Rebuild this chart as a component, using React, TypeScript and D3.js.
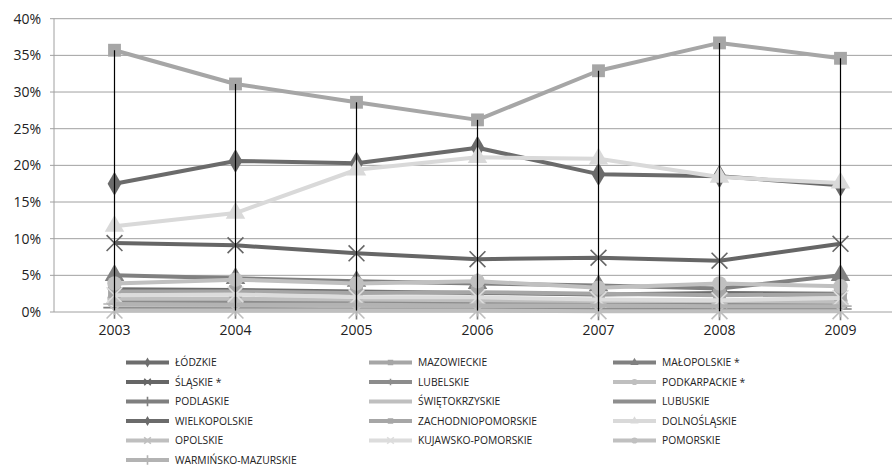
import React, { useEffect, useRef } from "react";
import {
  select,
  scalePoint,
  scaleLinear,
  line,
  symbol,
  symbolDiamond,
  symbolSquare,
  symbolTriangle,
  symbolCircle,
  symbolTimes,
  symbolAsterisk,
  symbolPlus,
  max,
  min,
} from "d3";

const years = ["2003", "2004", "2005", "2006", "2007", "2008", "2009"];
const yTicks = [0, 5, 10, 15, 20, 25, 30, 35, 40];

// values in %
const lodzkie = [3.1, 3.0, 2.8, 2.6, 2.4, 2.6, 2.5];
const mazowieckie = [35.7, 31.1, 28.6, 26.2, 32.9, 36.7, 34.6];
const malopolskie = [5.0, 4.6, 4.2, 3.9, 3.6, 3.2, 5.0];
const slaskie = [9.4, 9.1, 8.0, 7.2, 7.4, 7.0, 9.3];
const lubelskie = [1.5, 1.5, 1.4, 1.3, 1.2, 1.2, 1.1];
const podkarpackie = [1.8, 1.8, 1.7, 1.6, 1.5, 1.5, 1.4];
const podlaskie = [0.6, 0.6, 0.5, 0.5, 0.4, 0.4, 0.4];
const swietokrzyskie = [0.9, 0.9, 0.8, 0.7, 0.7, 0.6, 0.6];
const lubuskie = [0.4, 0.3, 0.3, 0.3, 0.3, 0.3, 0.3];
const wielkopolskie = [17.5, 20.6, 20.3, 22.4, 18.8, 18.5, 17.3];
const zachodniopomorskie = [2.8, 2.8, 2.6, 2.7, 2.5, 2.3, 2.4];
const dolnoslaskie = [11.7, 13.5, 19.4, 21.1, 20.9, 18.4, 17.6];
const opolskie = [0.2, 0.2, 0.2, 0.2, 0.1, 0.1, 0.1];
const kujawskoPomorskie = [2.3, 2.4, 2.0, 2.0, 1.7, 1.6, 1.9];
const pomorskie = [3.9, 4.4, 3.9, 4.2, 3.3, 3.9, 3.5];
const warminskoMazurskie = [1.1, 1.0, 1.0, 0.9, 0.9, 0.8, 0.8];

type Series = { name: string; values: number[]; color: string; marker: string };

const series: Series[] = [
  { name: "ŁÓDZKIE", values: lodzkie, color: "#6d6d6d", marker: "diamond" },
  { name: "MAZOWIECKIE", values: mazowieckie, color: "#a6a6a6", marker: "square" },
  { name: "MAŁOPOLSKIE *", values: malopolskie, color: "#808080", marker: "triangle" },
  { name: "ŚLĄSKIE *", values: slaskie, color: "#666666", marker: "times" },
  { name: "LUBELSKIE", values: lubelskie, color: "#8c8c8c", marker: "asterisk" },
  { name: "PODKARPACKIE *", values: podkarpackie, color: "#bfbfbf", marker: "circle" },
  { name: "PODLASKIE", values: podlaskie, color: "#7f7f7f", marker: "plus" },
  { name: "ŚWIĘTOKRZYSKIE", values: swietokrzyskie, color: "#bfbfbf", marker: "none" },
  { name: "LUBUSKIE", values: lubuskie, color: "#8e8e8e", marker: "none" },
  { name: "WIELKOPOLSKIE", values: wielkopolskie, color: "#6b6b6b", marker: "diamond" },
  { name: "ZACHODNIOPOMORSKIE", values: zachodniopomorskie, color: "#a6a6a6", marker: "square" },
  { name: "DOLNOŚLĄSKIE", values: dolnoslaskie, color: "#d9d9d9", marker: "triangle" },
  { name: "OPOLSKIE", values: opolskie, color: "#bfbfbf", marker: "times" },
  { name: "KUJAWSKO-POMORSKIE", values: kujawskoPomorskie, color: "#dcdcdc", marker: "times" },
  { name: "POMORSKIE", values: pomorskie, color: "#c0c0c0", marker: "circle" },
  { name: "WARMIŃSKO-MAZURSKIE", values: warminskoMazurskie, color: "#b3b3b3", marker: "plus" },
];

const W = 892;
const H = 467;
const FONT = "'Open Sans', sans-serif";

const symbolTypes: Record<string, any> = {
  diamond: symbolDiamond,
  square: symbolSquare,
  triangle: symbolTriangle,
  circle: symbolCircle,
  times: symbolTimes,
  asterisk: symbolAsterisk,
  plus: symbolPlus,
};
const strokeMarkers = ["times", "asterisk", "plus"];

const drawMarker = (g: any, s: Series, x: number, y: number, size: number) => {
  if (s.marker === "none") return;
  const path = symbol().type(symbolTypes[s.marker]).size(size)();
  const m = g.append("path").attr("d", path).attr("transform", `translate(${x},${y})`);
  if (strokeMarkers.includes(s.marker)) {
    m.attr("fill", "none").attr("stroke", s.color).attr("stroke-width", 1.6);
  } else {
    m.attr("fill", s.color);
  }
};

export default function App() {
  const svgRef = useRef<SVGSVGElement | null>(null);

  useEffect(() => {
    if (svgRef.current === null) return;
    const svg = select(svgRef.current);
    svg.selectAll("*").remove();

    const x = scalePoint<string>().domain(years).range([54, 901]).padding(0.5);
    const y = scaleLinear().domain([0, 40]).range([312, 18.7]);

    // gridlines + y axis
    const grid = svg.append("g");
    yTicks.forEach((t) => {
      grid
        .append("line")
        .attr("x1", 50)
        .attr("x2", W)
        .attr("y1", y(t))
        .attr("y2", y(t))
        .attr("stroke", "#a0a0a0")
        .attr("stroke-width", 1);
      grid
        .append("text")
        .attr("x", 41)
        .attr("y", y(t) + 5)
        .attr("text-anchor", "end")
        .attr("font-family", FONT)
        .attr("font-size", 14)
        .attr("fill", "#222")
        .text(t + "%");
    });
    grid
      .append("line")
      .attr("x1", 54)
      .attr("x2", 54)
      .attr("y1", y(40))
      .attr("y2", y(0))
      .attr("stroke", "#a0a0a0");

    years.forEach((yr) => {
      grid
        .append("text")
        .attr("x", x(yr)!)
        .attr("y", 335)
        .attr("text-anchor", "middle")
        .attr("font-family", FONT)
        .attr("font-size", 14)
        .attr("fill", "#222")
        .text(yr);
    });

    // series lines + markers
    const lineGen = line<number>()
      .x((_, i) => x(years[i])!)
      .y((d) => y(d));

    const plot = svg.append("g");
    series.forEach((s) => {
      const g = plot.append("g");
      g.append("path")
        .attr("d", lineGen(s.values))
        .attr("fill", "none")
        .attr("stroke", s.color)
        .attr("stroke-width", 4)
        .attr("stroke-linejoin", "round");
      s.values.forEach((v, i) => drawMarker(g, s, x(years[i])!, y(v), 165));
    });

    // high-low lines
    const hl = svg.append("g");
    years.forEach((yr, i) => {
      const vals = series.map((s) => s.values[i]);
      hl.append("line")
        .attr("x1", x(yr)!)
        .attr("x2", x(yr)!)
        .attr("y1", y(max(vals)!))
        .attr("y2", y(min(vals)!))
        .attr("stroke", "#000")
        .attr("stroke-width", 1.2);
    });

    // legend
    const colX = [126, 369, 613];
    const legend = svg.append("g");
    series.forEach((s, i) => {
      const col = i % 3;
      const row = Math.floor(i / 3);
      const lx = colX[col];
      const ly = 362.5 + row * 19.5;
      legend
        .append("line")
        .attr("x1", lx)
        .attr("x2", lx + 43)
        .attr("y1", ly)
        .attr("y2", ly)
        .attr("stroke", s.color)
        .attr("stroke-width", 4);
      drawMarker(legend, s, lx + 21.5, ly, 30);
      legend
        .append("text")
        .attr("x", lx + 49)
        .attr("y", ly + 3.6)
        .attr("font-family", FONT)
        .attr("font-size", 10.3)
        .attr("fill", "#222")
        .text(s.name);
    });
  }, []);

  return (
    <svg
      ref={svgRef}
      width={W}
      height={H}
      style={{ position: "absolute", left: 0, top: 0, background: "#fff" }}
    />
  );
}
